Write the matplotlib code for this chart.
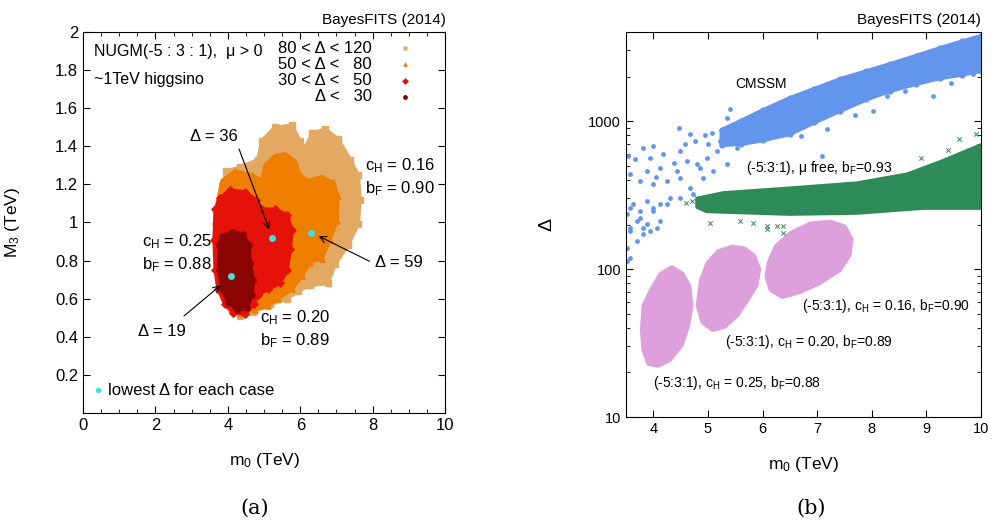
import numpy as np
import matplotlib
matplotlib.use("Agg")
import matplotlib.pyplot as plt
from matplotlib.ticker import MultipleLocator, LogLocator, NullFormatter

plt.rcParams['font.family'] = ['Liberation Sans', 'DejaVu Sans']
plt.rcParams['mathtext.fontset'] = 'custom'
plt.rcParams['mathtext.rm'] = 'Liberation Sans'
plt.rcParams['mathtext.it'] = 'Liberation Sans'

# ---------------- panel (a): NUGM clouds, outlines (m0, M3)
tan_cloud = [(3.84, 1.17), (3.95, 1.27), (4.34, 1.29), (4.83, 1.33), (4.94, 1.43), (5.30, 1.50),
             (5.77, 1.51), (5.99, 1.43), (6.13, 1.39), (6.33, 1.47), (6.69, 1.49), (7.04, 1.44),
             (7.38, 1.33), (7.60, 1.25), (7.65, 1.12), (7.60, 0.99), (7.32, 0.88), (6.96, 0.78),
             (6.77, 0.68), (6.27, 0.67), (5.94, 0.64), (5.64, 0.60), (5.17, 0.57), (4.70, 0.53),
             (4.34, 0.51), (4.12, 0.54), (3.95, 0.59), (3.78, 0.70), (3.73, 0.86), (3.73, 1.01),
             (3.78, 1.12)]
orange_cloud = [(3.73, 1.12), (3.84, 1.22), (4.20, 1.27), (4.67, 1.25), (4.94, 1.22), (5.03, 1.30),
                (5.30, 1.35), (5.58, 1.36), (5.86, 1.32), (5.99, 1.25), (6.22, 1.22), (6.60, 1.24),
                (6.91, 1.21), (7.04, 1.14), (7.02, 1.01), (6.82, 0.91), (6.60, 0.81), (6.27, 0.79),
                (6.05, 0.72), (5.77, 0.65), (5.39, 0.60), (5.11, 0.56), (4.75, 0.54), (4.34, 0.52),
                (4.12, 0.54), (3.92, 0.59), (3.73, 0.70), (3.67, 0.86), (3.65, 1.01)]
red_cloud = [(3.65, 1.07), (3.78, 1.13), (4.06, 1.17), (4.48, 1.16), (4.78, 1.12), (4.94, 1.07),
             (5.30, 1.07), (5.64, 1.04), (5.77, 0.96), (5.72, 0.86), (5.64, 0.75), (5.44, 0.68),
             (5.11, 0.65), (4.83, 0.62), (4.72, 0.57), (4.48, 0.52), (4.14, 0.525), (3.92, 0.57),
             (3.73, 0.65), (3.65, 0.75), (3.62, 0.91)]
darkred_cloud = [(3.76, 0.88), (3.84, 0.93), (4.12, 0.95), (4.42, 0.94), (4.59, 0.88), (4.61, 0.79),
                 (4.70, 0.70), (4.67, 0.62), (4.53, 0.55), (4.25, 0.54), (4.01, 0.58), (3.84, 0.65),
                 (3.76, 0.75)]

lowest_m0 = [4.09, 5.22, 6.30]
lowest_m3 = [0.72, 0.92, 0.945]

legend_labels = ['80 < Δ < 120', '50 < Δ <   80', '30 < Δ <   50', 'Δ <   30']
legend_colors = ['#E3A862', '#EE7E00', '#E41208', '#8B0404']
legend_markers = ['s', '^', 'D', 'o']
legend_y = [1.915, 1.83, 1.745, 1.66]

# ---------------- panel (b): Delta vs m0
cmssm_band = [(5.25, 870), (5.60, 1000), (6.00, 1180), (6.50, 1430), (6.95, 1650), (7.42, 1920),
              (7.90, 2170), (8.34, 2430), (8.80, 2750), (9.25, 3110), (9.65, 3450), (10.0, 3750),
              (10.0, 2180), (9.65, 2060), (9.25, 1950), (8.80, 1780), (8.34, 1600), (7.90, 1400),
              (7.42, 1170), (6.95, 980), (6.50, 817), (6.00, 740), (5.60, 700), (5.25, 690)]
cmssm_m0 = [5.40, 5.35, 4.47, 4.76, 5.08, 4.95, 4.67, 3.99, 3.81, 3.53, 3.66, 3.94, 4.18, 4.49,
            4.62, 4.80, 4.98, 5.17, 5.22, 4.86, 4.43, 4.12, 3.88, 3.57, 3.76, 3.99, 4.25, 4.49,
            4.67, 4.91, 5.09, 5.35, 5.53, 5.64, 4.31, 4.12, 3.88, 3.63, 3.52, 3.76, 3.99, 4.25,
            4.49, 4.73, 3.57, 3.81, 3.57, 3.76, 3.99, 3.70, 3.88, 4.12, 3.57, 3.81, 3.70, 3.52,
            3.57, 3.52, 3.94, 4.07, 9.12, 8.02, 7.18, 9.86, 7.09, 5.00, 5.25, 4.58, 4.38, 4.05,
            8.28, 8.60, 9.45, 7.70, 6.70]
cmssm_delta = [1205, 1048, 897, 732, 829, 804, 817, 678, 657, 580, 554, 563, 598, 627,
               537, 512, 563, 627, 732, 481, 459, 481, 459, 438, 394, 375, 394, 412,
               352, 412, 459, 512, 657, 855, 302, 275, 288, 275, 235, 221, 247, 275,
               302, 321, 189, 189, 258, 247, 258, 211, 201, 211, 181, 172, 155, 139,
               119, 113, 181, 189, 1475, 1169, 883, 2080, 580, 700, 760, 700, 520, 420,
               1480, 1600, 1800, 1100, 790]

mufree_band = [(4.80, 300), (5.28, 327), (6.50, 352), (7.73, 381), (8.65, 438), (9.25, 530),
               (10.0, 690), (10.0, 258), (8.94, 258), (7.73, 239), (6.50, 235), (4.98, 245),
               (4.80, 262)]
mufree_m0 = [5.04, 5.59, 5.83, 6.08, 6.27, 6.38, 6.08, 6.38, 4.80, 4.70, 4.60, 9.6, 9.9, 9.4, 8.9]
mufree_delta = [205, 211, 205, 195, 195, 195, 186, 175, 302, 290, 280, 760, 820, 640, 560]

pink_clouds = [
    [(3.94, 71.5), (4.12, 93), (4.34, 104), (4.54, 94), (4.67, 77), (4.71, 56.6), (4.65, 41.5),
     (4.53, 30.4), (4.31, 24.1), (4.09, 22.0), (3.90, 22.7), (3.81, 28.2), (3.78, 38.4), (3.81, 56.6)],
    [(4.86, 83.4), (4.98, 110), (5.18, 133), (5.44, 143), (5.68, 139), (5.86, 123), (5.95, 100),
     (5.90, 77.3), (5.73, 61.2), (5.55, 48.5), (5.31, 40.3), (5.08, 38.4), (4.89, 43.5), (4.80, 56.6)],
    [(6.10, 110), (6.23, 143), (6.50, 176), (6.87, 205), (7.24, 211), (7.51, 196), (7.64, 160),
     (7.60, 123), (7.42, 97.5), (7.05, 79.6), (6.69, 69.2), (6.36, 64.1), (6.14, 71.5), (6.06, 88.7)],
]

fig = plt.figure(figsize=(9.92, 5.27), dpi=100)
ax1 = fig.add_axes([0.0837, 0.2163, 0.365, 0.723])
ax2 = fig.add_axes([0.631, 0.2087, 0.358, 0.7306])

# ---- (a)
for poly, col, mk in zip([tan_cloud, orange_cloud, red_cloud, darkred_cloud],
                         legend_colors, legend_markers):
    xs = [p[0] for p in poly]
    ys = [p[1] for p in poly]
    ax1.fill(xs, ys, color=col, lw=2.5, ec=col, joinstyle='round', zorder=2)
    ax1.scatter(xs, ys, marker=mk, s=14, color=col, zorder=2)

ax1.plot(lowest_m0, lowest_m3, 'o', color='#40E0E0', ms=5, mec='none', zorder=5)

for lab, col, mk, y in zip(legend_labels, legend_colors, legend_markers, legend_y):
    ax1.text(7.98, y, lab, ha='right', va='center', fontsize=12)
    ax1.plot([8.9], [y], mk, color=col, ms=3.5, mec='none')

ax1.text(0.31, 1.90, 'NUGM(-5 : 3 : 1),  μ > 0', fontsize=11.5, va='center')
ax1.text(0.31, 1.75, '~1TeV higgsino', fontsize=11.5, va='center')
ax1.plot([0.41], [0.12], 'o', color='#40E0E0', ms=4, mec='none')
ax1.text(0.70, 0.12, 'lowest Δ for each case', fontsize=12, va='center')

ax1.text(1.63, 0.90, 'c$_\\mathrm{H}$ = 0.25', fontsize=12, va='center')
ax1.text(1.63, 0.78, 'b$_\\mathrm{F}$ = 0.88', fontsize=12, va='center')
ax1.text(4.89, 0.50, 'c$_\\mathrm{H}$ = 0.20', fontsize=12, va='center')
ax1.text(4.89, 0.38, 'b$_\\mathrm{F}$ = 0.89', fontsize=12, va='center')
ax1.text(7.79, 1.30, 'c$_\\mathrm{H}$ = 0.16', fontsize=12, va='center')
ax1.text(7.79, 1.18, 'b$_\\mathrm{F}$ = 0.90', fontsize=12, va='center')

arr = dict(arrowstyle='->', lw=0.8, color='black', mutation_scale=12)
ax1.annotate('', xy=(5.17, 0.95), xytext=(4.28, 1.40), arrowprops=arr, zorder=6)
ax1.text(3.6, 1.45, 'Δ = 36', fontsize=12, ha='center', va='center')
ax1.annotate('', xy=(6.44, 0.935), xytext=(7.98, 0.79), arrowprops=arr, zorder=6)
ax1.text(8.05, 0.79, 'Δ = 59', fontsize=12, ha='left', va='center')
ax1.annotate('', xy=(3.86, 0.68), xytext=(2.73, 0.50), arrowprops=arr, zorder=6)
ax1.text(2.18, 0.43, 'Δ = 19', fontsize=12, ha='center', va='center')

ax1.set_xlim(0, 10)
ax1.set_ylim(0, 2)
ax1.set_xticks([0, 2, 4, 6, 8, 10])
ax1.xaxis.set_minor_locator(MultipleLocator(0.5))
ax1.set_yticks([0.2, 0.4, 0.6, 0.8, 1.0, 1.2, 1.4, 1.6, 1.8, 2.0])
ax1.set_yticklabels(['0.2', '0.4', '0.6', '0.8', '1', '1.2', '1.4', '1.6', '1.8', '2'])
ax1.tick_params(which='both', direction='in', top=True, right=True, labelsize=12)
ax1.tick_params(which='major', length=5)
ax1.tick_params(which='minor', length=3)
ax1.set_xlabel('m$_0$ (TeV)', fontsize=12.5)
ax1.set_ylabel('M$_3$ (TeV)', fontsize=12.5)
ax1.xaxis.set_label_coords(0.5, -0.10)
ax1.yaxis.set_label_coords(-0.168, 0.5)
ax1.text(1.003, 1.031, 'BayesFITS (2014)', transform=ax1.transAxes, ha='right', va='center', fontsize=11)

# ---- (b)
ax2.set_yscale('log')
bx = [p[0] for p in cmssm_band]
by = [p[1] for p in cmssm_band]
ax2.fill(bx, by, color='#6495ED', lw=3, ec='#6495ED', joinstyle='round', zorder=2)
ax2.scatter(bx, by, s=12, color='#6495ED', zorder=2)
ax2.scatter(cmssm_m0, cmssm_delta, s=12, color='#6495ED', lw=0, zorder=2)

for cl in pink_clouds:
    ax2.fill([p[0] for p in cl], [p[1] for p in cl], color='#DDA0DD', lw=2, ec='#DDA0DD',
             joinstyle='round', zorder=3)

gx = [p[0] for p in mufree_band]
gy = [p[1] for p in mufree_band]
ax2.fill(gx, gy, color='#2E8B57', lw=2.5, ec='#2E8B57', joinstyle='round', zorder=4)
ax2.scatter(mufree_m0, mufree_delta, s=10, marker='x', color='#2E8B57', lw=0.7, zorder=4)

ax2.text(5.97, 1780, 'CMSSM', fontsize=10, ha='center', va='center')
ax2.text(5.70, 481, '(-5:3:1), μ free, b$_\\mathrm{F}$=0.93', fontsize=10, va='center', zorder=6)
ax2.text(6.72, 56, '(-5:3:1), c$_\\mathrm{H}$ = 0.16, b$_\\mathrm{F}$=0.90', fontsize=10, va='center')
ax2.text(5.31, 31.9, '(-5:3:1), c$_\\mathrm{H}$ = 0.20, b$_\\mathrm{F}$=0.89', fontsize=10, va='center')
ax2.text(3.99, 16.9, '(-5:3:1), c$_\\mathrm{H}$ = 0.25, b$_\\mathrm{F}$=0.88', fontsize=10, va='center')

ax2.set_xlim(3.5, 10)
ax2.set_ylim(10, 4000)
ax2.set_xticks([4, 5, 6, 7, 8, 9, 10])
ax2.set_yticks([10, 100, 1000])
ax2.set_yticklabels(['10', '100', '1000'])
ax2.yaxis.set_minor_locator(LogLocator(base=10, subs=(2, 3, 4, 5, 6, 7, 8, 9)))
ax2.yaxis.set_minor_formatter(NullFormatter())
ax2.tick_params(which='both', direction='in', top=True, right=True, labelsize=10.5)
ax2.tick_params(which='major', length=5)
ax2.tick_params(which='minor', length=3)
ax2.set_xlabel('m$_0$ (TeV)', fontsize=12.5)
ax2.set_ylabel('Δ', fontsize=14, rotation=90)
ax2.xaxis.set_label_coords(0.5, -0.099)
ax2.yaxis.set_label_coords(-0.2, 0.5)
ax2.text(1.0, 1.031, 'BayesFITS (2014)', transform=ax2.transAxes, ha='right', va='center', fontsize=11)

fig.text(0.257, 0.036, '(a)', family='DejaVu Serif', fontsize=15, ha='center', va='center')
fig.text(0.818, 0.036, '(b)', family='DejaVu Serif', fontsize=15, ha='center', va='center')

fig.savefig('out.png', dpi=100)
